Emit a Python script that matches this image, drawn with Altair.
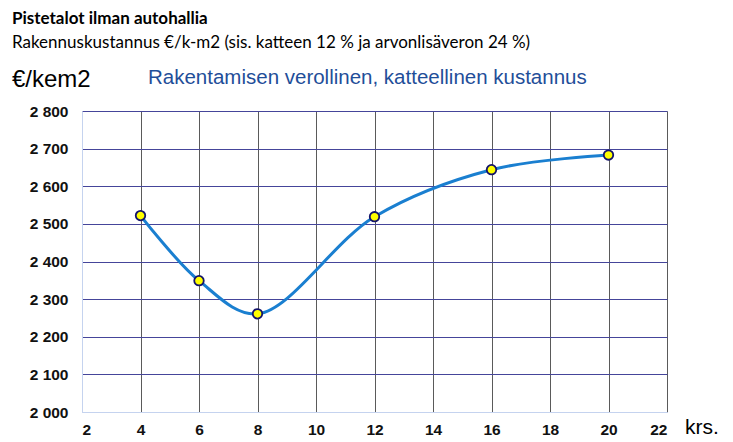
import altair as alt
import pandas as pd

floors = [4, 6, 8, 12, 16, 20]
cost = [2522, 2349, 2261, 2519, 2644, 2683]
x_ticks = [2, 4, 6, 8, 10, 12, 14, 16, 18, 20, 22]
y_ticks = [2000, 2100, 2200, 2300, 2400, 2500, 2600, 2700, 2800]

title = "Pistetalot ilman autohallia"
subtitle = "Rakennuskustannus €/k-m2 (sis. katteen 12 % ja arvonlisäveron 24 %)"
y_unit = "€/kem2"
series_label = "Rakentamisen verollinen, katteellinen kustannus"
x_unit = "krs."

df = pd.DataFrame({"krs": floors, "cost": cost})

W, H = 585, 301
LIGHT = "#c5d3ef"

x_axis = alt.Axis(values=x_ticks, title=None, grid=True, labelOverlap=False, tickCount=11,
                  gridColor={"condition": {"test": "datum.value === 2", "value": LIGHT}, "value": "#5a5a5a"},
                  labelPadding=10)
y_axis = alt.Axis(values=y_ticks, title=None, grid=True, labelOverlap=False, tickCount=9,
                  gridColor={"condition": {"test": "datum.value === 2000", "value": LIGHT}, "value": "#45459a"},
                  labelExpr="replace(format(datum.value, ','), ',', ' ')",
                  labelPadding=14)

x_enc = alt.X("krs:Q", scale=alt.Scale(domain=[2, 22], nice=False), axis=x_axis)
y_enc = alt.Y("cost:Q", scale=alt.Scale(domain=[2000, 2800], nice=False), axis=y_axis)

base = alt.Chart(df)
line = base.mark_line(interpolate="catmull-rom", color="#1a7fd0", strokeWidth=3).encode(x=x_enc, y=y_enc)
pts = base.mark_point(filled=True, fill="#ffff00", stroke="#14146b", strokeWidth=1.8,
                      size=90, opacity=1, shape="circle").encode(x=x_enc, y=y_enc)


def txt(text, x, y, size, weight="normal", color="#000", font="Lato"):
    return alt.Chart(pd.DataFrame({"t": [text]})).mark_text(
        align="left", baseline="alphabetic", fontSize=size, fontWeight=weight,
        color=color, font=font, clip=False
    ).encode(text="t:N", x=alt.value(x), y=alt.value(y))


texts = [
    txt(title, -70, -87, 17, "bold"),
    txt(subtitle, -70, -63, 17),
    txt(y_unit, -70, -24, 24, font="Liberation Sans"),
    txt(series_label, 66, -27, 20.5, color="#1f4e99", font="Liberation Sans"),
    txt(x_unit, 603, 323, 21, font="Liberation Sans"),
]

chart = alt.layer(line, pts, *texts).properties(
    width=W, height=H,
    autosize=alt.AutoSizeParams(type="none"),
    padding={"left": 74, "top": 103, "right": 58, "bottom": 26},
).configure_view(stroke=None).configure(background="white").configure_axis(
    gridWidth=1, domainColor=LIGHT, ticks=False,
    labelFont="Liberation Sans", labelFontWeight="bold", labelFontSize=15.5, labelColor="#111",
)

chart.save("out.html", embed_options={"renderer": "svg", "actions": False})
